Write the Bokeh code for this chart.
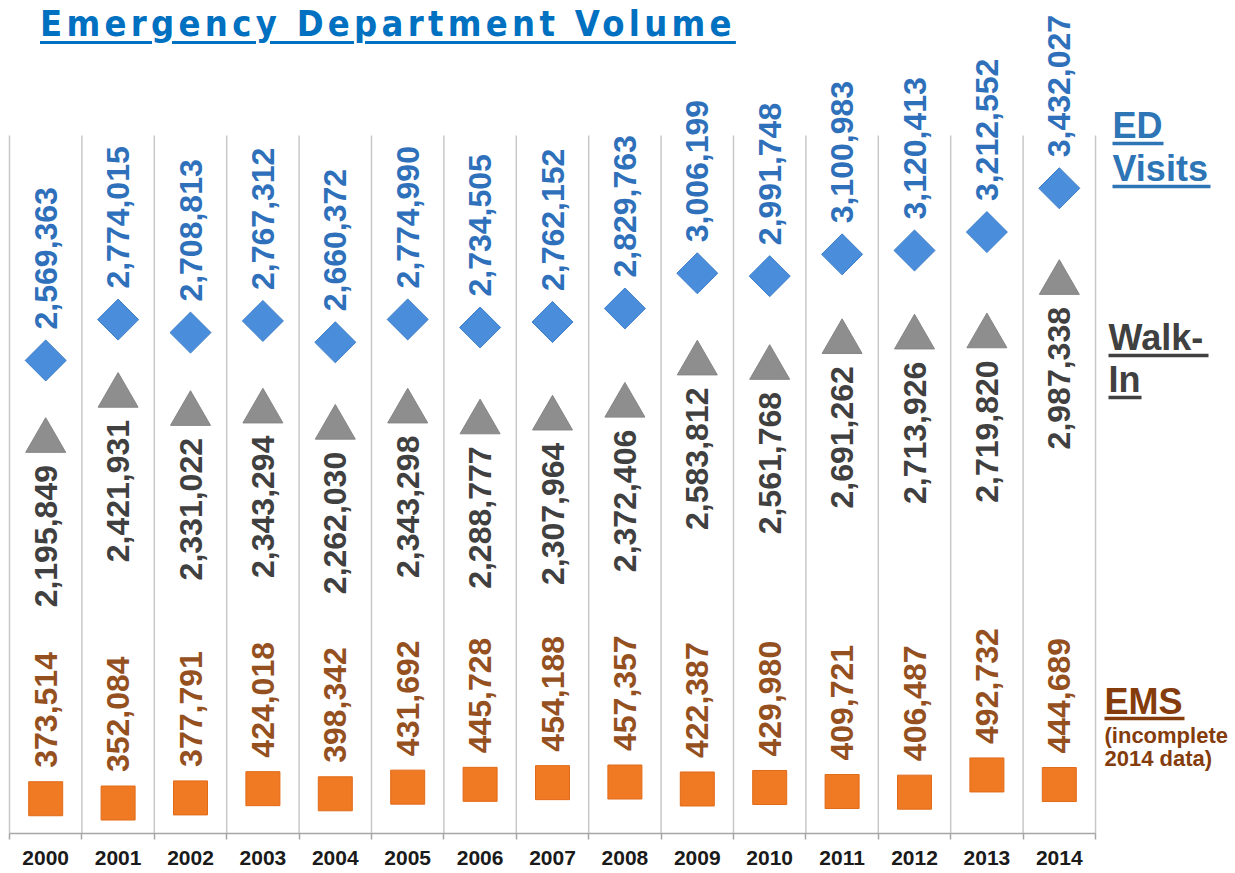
import numpy as np
from bokeh.plotting import figure
from bokeh.models import ColumnDataSource, Range1d, FixedTicker, Div
from bokeh.layouts import column
from bokeh.embed import file_html
from bokeh.resources import INLINE
from bokeh.core.properties import value
from bokeh.transform import dodge

# ---------------- data ----------------
years = ["2000", "2001", "2002", "2003", "2004", "2005", "2006", "2007",
         "2008", "2009", "2010", "2011", "2012", "2013", "2014"]
ed_visits = [2569363, 2774015, 2708813, 2767312, 2660372, 2774990, 2734505, 2762152,
             2829763, 3006199, 2991748, 3100983, 3120413, 3212552, 3432027]
walk_in = [2195849, 2421931, 2331022, 2343294, 2262030, 2343298, 2288777, 2307964,
           2372406, 2583812, 2561768, 2691262, 2713926, 2719820, 2987338]
ems = [373514, 352084, 377791, 424018, 398342, 431692, 445728, 454188,
       457357, 422387, 429980, 409721, 406487, 492732, 444689]

idx = list(range(len(years)))
src = ColumnDataSource(dict(
    x=idx, ed=ed_visits, walk=walk_in, ems=ems,
    ed_lab=[f"{v:,}" for v in ed_visits],
    walk_lab=[f"{v:,}" for v in walk_in],
    ems_lab=[f"{v:,}" for v in ems],
))

# ------------- page <-> data helpers (layout only) -------------
COL_W = 72.4      # px per category
X0 = 9.0          # page x of the left band edge
PX_PER_UNIT = 5010.0
Y_ZERO = 872.8    # page y where value 0 would sit

def dx(px):
    return (px - X0) / COL_W - 0.5

def dy(py):
    return (Y_ZERO - py) * PX_PER_UNIT

FIG_W, FIG_H = 1232, 872
FRAME_BOTTOM = 833

p = figure(width=FIG_W, height=FIG_H, output_backend="svg", toolbar_location=None,
           x_range=Range1d(dx(0), dx(FIG_W)),
           y_range=Range1d(dy(FRAME_BOTTOM), dy(0)),
           y_axis_location=None,
           min_border_left=0, min_border_right=0, min_border_top=0,
           min_border_bottom=FIG_H - FRAME_BOTTOM)
p.outline_line_color = None
p.background_fill_color = None
p.border_fill_color = None
p.xgrid.visible = False
p.ygrid.visible = False

# x axis with year labels
ax = p.xaxis[0]
ax.ticker = FixedTicker(ticks=idx, minor_ticks=[i - 0.5 for i in range(len(years) + 1)])
ax.major_label_overrides = {i: y for i, y in enumerate(years)}
ax.bounds = (-0.5, len(years) - 0.5)
ax.axis_line_color = "#a6a6a6"
ax.axis_line_width = 1.5
ax.major_tick_line_color = None
ax.major_tick_out = 0
ax.major_tick_in = 0
ax.minor_tick_line_color = "#a6a6a6"
ax.minor_tick_line_width = 1.5
ax.minor_tick_out = 6
ax.minor_tick_in = 0
ax.major_label_standoff = 11
ax.major_label_text_font = "Liberation Sans"
ax.major_label_text_font_style = "bold"
ax.major_label_text_font_size = "21px"
ax.major_label_text_color = "#1a1a1a"

# vertical separators between years
bounds = [i - 0.5 for i in range(len(years) + 1)]
p.segment(x0=bounds, y0=[dy(FRAME_BOTTOM)] * len(bounds), x1=bounds,
          y1=[dy(135)] * len(bounds), line_color="#c8c8c8", line_width=1.5)

# markers
p.scatter(x="x", y="ed", source=src, marker="square", size=29, angle=np.pi / 4,
          fill_color="#4a8edb", line_color="#3f7fc8", line_width=1)
p.scatter(x="x", y=dodge("walk", -29000, range=p.y_range), source=src,
          marker="triangle", size=40, fill_color="#8e8e8e", line_color="#858585",
          line_width=1)
p.scatter(x="x", y="ems", source=src, marker="square", size=34,
          fill_color="#f07a24", line_color="#e06a18", line_width=1)

FONT = value("Liberation Sans")
# value labels (rotated)
p.text(x="x", y="ed", text="ed_lab", source=src, angle=np.pi / 2,
       text_align="left", text_baseline="middle", y_offset=-31,
       text_font=FONT, text_font_style="bold", text_font_size="32px",
       text_color="#2f70bb")
p.text(x="x", y="walk", text="walk_lab", source=src, angle=np.pi / 2,
       text_align="right", text_baseline="middle", y_offset=30,
       text_font=FONT, text_font_style="bold", text_font_size="32px",
       text_color="#404040")
p.text(x="x", y="ems", text="ems_lab", source=src, angle=np.pi / 2,
       text_align="left", text_baseline="middle", y_offset=-31,
       text_font=FONT, text_font_style="bold", text_font_size="32px",
       text_color="#94501f")

# right-hand series names with underlines
legend_items = [
    # text, page x, cap-centre page y, underline page y, color, underline width
    ("ED", 1112, 125, 143, "#2e75b6", 51),
    ("Visits", 1112, 168, 186, "#2e75b6", 98),
    ("Walk-", 1108, 337, 355, "#404040", 100),
    ("In", 1108, 379, 397, "#404040", 33),
    ("EMS", 1104, 701, 718, "#843c0c", 80),
]
for txt, px, py, uy, col, uw in legend_items:
    p.text(x=[dx(px)], y=[dy(py)], text=[txt], text_align="left",
           text_baseline="middle", text_font=FONT, text_font_style="bold",
           text_font_size="36px", text_color=col)
    p.segment(x0=[dx(px)], y0=[dy(uy)], x1=[dx(px + uw)], y1=[dy(uy)],
              line_color=col, line_width=3.5)

for txt, py in [("(incomplete", 735), ("2014 data)", 758)]:
    p.text(x=[dx(1104)], y=[dy(py)], text=[txt], text_align="left",
           text_baseline="middle", text_font=FONT, text_font_style="bold",
           text_font_size="22px", text_color="#843c0c")

# title (letter-spaced, underlined)
title = Div(
    text=('<div style="font-family: \'Liberation Sans Narrow\', \'DejaVu Sans Condensed\', '
          'sans-serif; font-weight: bold; font-size: 36px; letter-spacing: 4.3px; '
          'padding-top: 6px; color: #0070c0; text-decoration: underline; '
          'text-decoration-thickness: 3px; text-underline-offset: 5px; line-height: 1; '
          'white-space: nowrap;">Emergency Department Volume</div>'),
    width=760, height=50, margin=(0, 0, -50, 40))

layout = column(title, p, spacing=0)
open("out.html", "w").write(file_html(layout, INLINE))
